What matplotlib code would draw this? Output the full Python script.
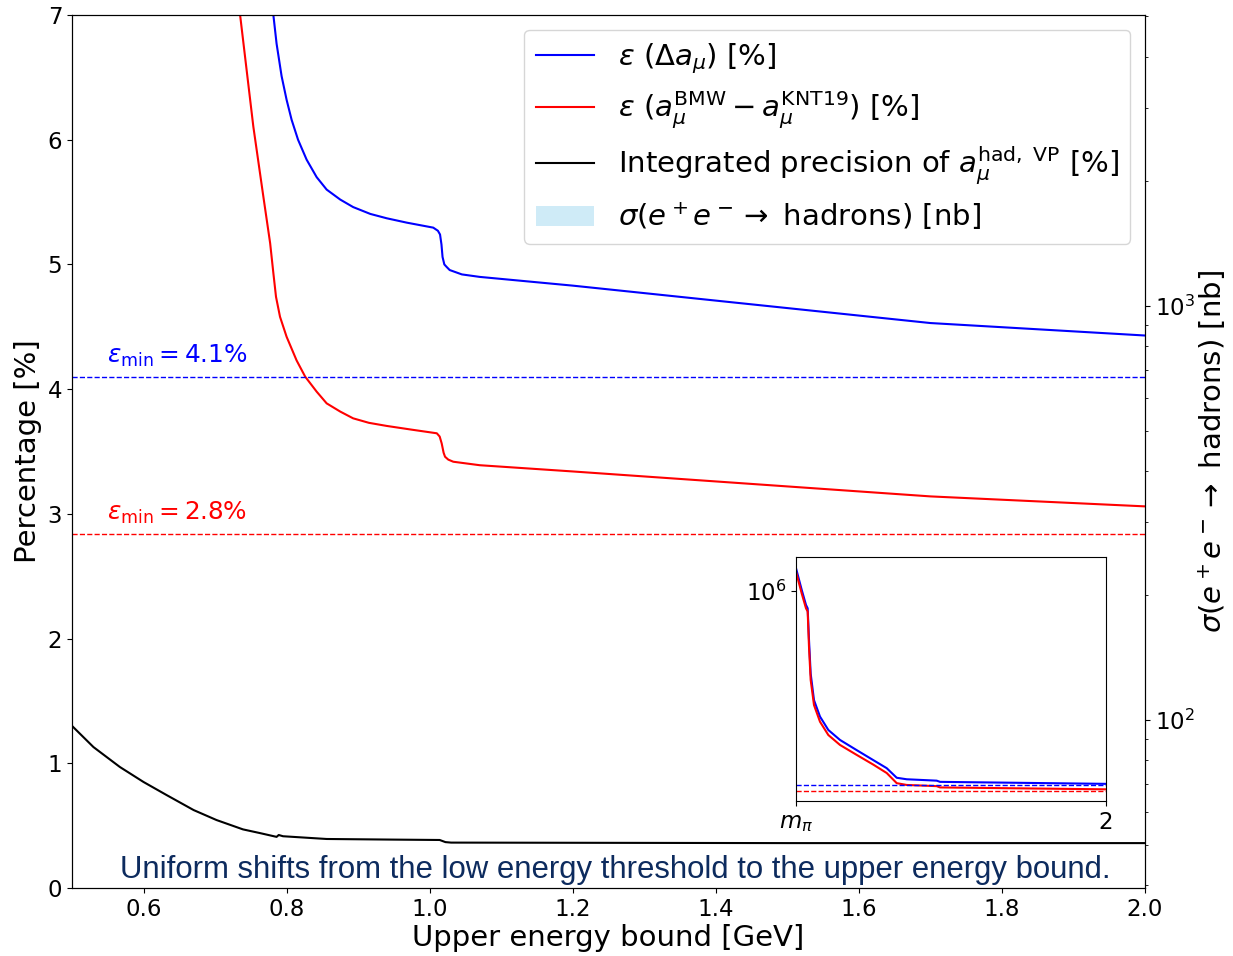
import matplotlib
matplotlib.use("Agg")
import matplotlib.pyplot as plt
from matplotlib.patches import Patch
import numpy as np

# ---------------- data ----------------
x_blue = [0.7815, 0.786, 0.793, 0.800, 0.807, 0.816, 0.828, 0.842, 0.856, 0.875,
          0.893, 0.917, 0.940, 0.968, 1.005, 1.0115, 1.0145, 1.0165, 1.018, 1.0205,
          1.0237, 1.028, 1.045, 1.07, 1.2, 1.4, 1.6, 1.7, 1.85, 2.0]
y_blue = [7.0, 6.77, 6.51, 6.32, 6.16, 6.0, 5.84, 5.70, 5.60, 5.52,
          5.46, 5.405, 5.37, 5.335, 5.295, 5.27, 5.24, 5.16, 5.06, 5.0,
          4.98, 4.955, 4.92, 4.90, 4.83, 4.71, 4.59, 4.53, 4.48, 4.43]

x_red = [0.735, 0.7535, 0.7675, 0.777, 0.7815, 0.7852, 0.7908, 0.800, 0.814, 0.826,
         0.842, 0.856, 0.875, 0.893, 0.915, 0.940, 0.975, 1.01, 1.014, 1.0168, 1.0195,
         1.0215, 1.026, 1.033, 1.07, 1.2, 1.4, 1.6, 1.7, 1.85, 2.0]
y_red = [7.0, 6.105, 5.544, 5.17, 4.93, 4.74, 4.58, 4.42, 4.23, 4.10,
         3.98, 3.886, 3.82, 3.766, 3.73, 3.705, 3.675, 3.646, 3.62, 3.565, 3.49,
         3.458, 3.435, 3.418, 3.39, 3.34, 3.26, 3.18, 3.14, 3.10, 3.06]

x_black = [0.5, 0.53, 0.567, 0.6, 0.632, 0.67, 0.702, 0.739, 0.763, 0.786,
           0.789, 0.795, 0.856, 0.95, 1.014, 1.022, 1.03, 1.5, 2.0]
y_black = [1.30, 1.13, 0.97, 0.85, 0.746, 0.625, 0.545, 0.47, 0.44, 0.41,
           0.425, 0.415, 0.393, 0.388, 0.385, 0.368, 0.364, 0.36, 0.36]

eps_min_blue = 4.1
eps_min_red = 2.84
eps_min_blue_label = r'$\varepsilon_{\rm min} = 4.1\%$'
eps_min_red_label = r'$\varepsilon_{\rm min} = 2.8\%$'

# inset (full range, log scale)
m_pi = 0.1396
xi_blue = [m_pi, 0.174, 0.1996, 0.2096, 0.2176, 0.2276, 0.2476, 0.2836, 0.3336, 0.4036,
           0.504, 0.604, 0.684, 0.744, 0.804, 0.984, 1.004, 2.0]
yi_blue = [4.3e6, 1.07e6, 4.1e5, 3.3e5, 4.4e4, 5.1e3, 930, 325, 138, 73,
           38, 20, 12, 6.5, 5.9, 5.4, 5.0, 4.4]
xi_red = [m_pi, 0.174, 0.1996, 0.2096, 0.2176, 0.2276, 0.2476, 0.2836, 0.3336, 0.4036,
          0.504, 0.604, 0.684, 0.744, 0.804, 0.984, 1.004, 2.0]
yi_red = [3.4e6, 8.5e5, 3.3e5, 2.7e5, 2.8e4, 3.4e3, 680, 234, 100, 53,
          28, 15, 8.8, 4.6, 4.1, 3.8, 3.5, 3.1]

x_ticks = [0.6, 0.8, 1.0, 1.2, 1.4, 1.6, 1.8, 2.0]
y_ticks = [0, 1, 2, 3, 4, 5, 6, 7]

labels = [r'$\varepsilon$ ($\Delta a_\mu$) [%]',
          r'$\varepsilon$ ($a_\mu^{\rm BMW} - a_\mu^{\rm KNT19}$) [%]',
          r'Integrated precision of $a_\mu^{\rm had,\ VP}$ [%]',
          r'$\sigma(e^+e^- \rightarrow$ hadrons) [nb]']

# ---------------- figure ----------------
W, H = 1233, 956
fig = plt.figure(figsize=(W / 100, H / 100), dpi=100)
ax = fig.add_axes([72 / W, 1 - 888 / H, (1145 - 72) / W, (888 - 15) / H])

lb, = ax.plot(x_blue, y_blue, color='blue', lw=1.5)
lr, = ax.plot(x_red, y_red, color='red', lw=1.5)
lk, = ax.plot(x_black, y_black, color='black', lw=1.5)
ax.axhline(eps_min_blue, color='blue', ls='--', lw=1)
ax.axhline(eps_min_red, color='red', ls='--', lw=1)
ax.text(0.549, eps_min_blue + 0.06, eps_min_blue_label, color='blue', fontsize=17.8,
        va='bottom', ha='left')
ax.text(0.549, eps_min_red + 0.06, eps_min_red_label, color='red', fontsize=17.8,
        va='bottom', ha='left')

ax.set_xlim(0.5, 2.0)
ax.set_ylim(0, 7)
ax.set_xticks(x_ticks)
ax.set_xticklabels([f'{v:.1f}' for v in x_ticks])
ax.set_yticks(y_ticks)
ax.tick_params(labelsize=16.5)
ax.set_xlabel('Upper energy bound [GeV]', fontsize=21, labelpad=2)
ax.set_ylabel('Percentage [%]', fontsize=21, labelpad=4)

ax2 = ax.twinx()
ax2.set_yscale('log')
ax2.set_ylim(39.3, 5040)
ax2.tick_params(labelsize=16.5)
ax2.set_ylabel(r'$\sigma(e^+e^- \rightarrow$ hadrons) [nb]', fontsize=21, labelpad=1)

patch = Patch(facecolor='skyblue', alpha=0.4, edgecolor='none')
ax2.legend([lb, lr, lk, patch], labels, loc='upper right', fontsize=21,
           labelspacing=0.46)

fig.text(615.5 / W, 1 - 870 / H,
         'Uniform shifts from the low energy threshold to the upper energy bound.',
         family='Liberation Sans', fontsize=22.4, color='#0d2b5e', ha='center', va='center')

# ---------------- inset ----------------
axi = fig.add_axes([796 / W, 1 - 801 / H, 310 / W, 244 / H])
axi.plot(xi_blue, yi_blue, color='blue', lw=1.5)
axi.plot(xi_red, yi_red, color='red', lw=1.5)
axi.axhline(eps_min_blue, color='blue', ls='--', lw=1)
axi.axhline(eps_min_red, color='red', ls='--', lw=1)
axi.set_yscale('log')
axi.set_xlim(m_pi, 2.0)
axi.set_ylim(1.47, 8.8e6)
axi.set_yticks([1e6])
axi.yaxis.set_minor_locator(matplotlib.ticker.NullLocator())
axi.set_xticks([m_pi, 2.0])
axi.set_xticklabels([r'$m_\pi$', '2'])
axi.tick_params(labelsize=16.5)

fig.savefig('out.png', dpi=100)
